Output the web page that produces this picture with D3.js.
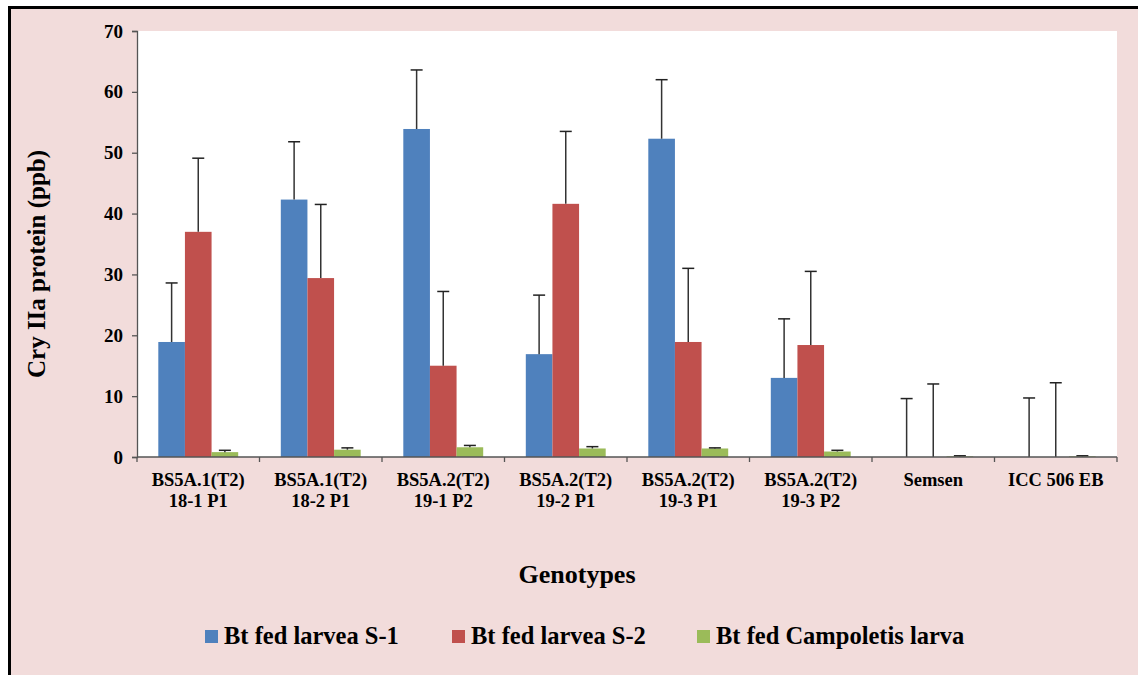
<!DOCTYPE html>
<html>
<head>
  <script src="https://d3js.org/d3.v7.min.js"></script>
  <style>
    body { margin: 0; background: #fff; }
    svg text { font-family: 'Liberation Serif', 'DejaVu Serif', serif; font-weight: bold; fill: #000; }
  </style>
</head>
<body>
  <div id="chart"></div>
  <script>
    // Data
    const categories = [
      ["BS5A.1(T2)", "18-1 P1"],
      ["BS5A.1(T2)", "18-2 P1"],
      ["BS5A.2(T2)", "19-1 P2"],
      ["BS5A.2(T2)", "19-2 P1"],
      ["BS5A.2(T2)", "19-3 P1"],
      ["BS5A.2(T2)", "19-3 P2"],
      ["Semsen"],
      ["ICC 506 EB"]
    ];
    const seriesNames = ["Bt fed larvea S-1", "Bt fed larvea S-2", "Bt fed Campoletis larva"];
    const seriesColors = ["#4f81bd", "#c0504d", "#9bbb59"];

    const s1 = [18.9, 42.3, 53.9, 16.9, 52.3, 13.0, 0, 0];
    const s2 = [37.0, 29.4, 15.0, 41.6, 18.9, 18.4, 0, 0];
    const s3 = [0.8, 1.2, 1.6, 1.4, 1.4, 0.9, 0.1, 0.1];
    // top of the error bars
    const s1Err = [28.6, 51.8, 63.6, 26.6, 62.0, 22.7, 9.6, 9.7];
    const s2Err = [49.1, 41.5, 27.2, 53.5, 31.0, 30.5, 12.0, 12.2];
    const s3Err = [1.1, 1.5, 1.9, 1.7, 1.5, 1.1, 0.2, 0.2];

    const yTicks = [0, 10, 20, 30, 40, 50, 60, 70];

    const values = [s1, s2, s3];
    const errs = [s1Err, s2Err, s3Err];

    const FONT = "'Liberation Serif', 'DejaVu Serif', serif";

    const W = 1138, H = 675;
    const svg = d3.select("#chart").append("svg")
      .attr("width", W).attr("height", H);

    // pink chart area with black frame
    svg.append("rect").attr("x", 10).attr("y", 8).attr("width", W).attr("height", H)
      .attr("fill", "#f2dcdb");
    svg.append("path").attr("d", `M9.5,${H} V7.5 H${W}`)
      .attr("fill", "none").attr("stroke", "#000").attr("stroke-width", 3);

    const plot = { left: 137, right: 1117, top: 31, bottom: 457 };
    svg.append("rect")
      .attr("x", plot.left).attr("y", plot.top)
      .attr("width", plot.right - plot.left).attr("height", plot.bottom - plot.top)
      .attr("fill", "#fff");

    const x0 = d3.scaleBand().domain(d3.range(categories.length))
      .range([plot.left, plot.right]).padding(0);
    const x1 = d3.scaleBand().domain(d3.range(seriesNames.length))
      .range([0, x0.bandwidth()]).paddingInner(0).paddingOuter(0.8);
    const y = d3.scaleLinear().domain([0, 70]).range([plot.bottom, plot.top]);

    // bars
    const groups = svg.selectAll(".grp").data(categories).enter().append("g")
      .attr("transform", (d, i) => `translate(${x0(i)},0)`);

    seriesNames.forEach((name, si) => {
      groups.append("rect")
        .attr("x", (d, i) => x1(si))
        .attr("width", x1.bandwidth())
        .attr("y", (d, i) => y(values[si][i]))
        .attr("height", (d, i) => y(0) - y(values[si][i]))
        .attr("fill", seriesColors[si]);
    });

    // error bars (upper only)
    seriesNames.forEach((name, si) => {
      const cx = x1(si) + x1.bandwidth() / 2;
      groups.append("line")
        .attr("x1", cx).attr("x2", cx)
        .attr("y1", (d, i) => y(values[si][i]))
        .attr("y2", (d, i) => y(errs[si][i]))
        .attr("stroke", "#333").attr("stroke-width", 1.5);
      groups.append("line")
        .attr("x1", cx - 6).attr("x2", cx + 6)
        .attr("y1", (d, i) => y(errs[si][i]))
        .attr("y2", (d, i) => y(errs[si][i]))
        .attr("stroke", "#222").attr("stroke-width", 1.5);
    });

    // y axis
    const yAxis = svg.append("g")
      .attr("transform", `translate(${plot.left},0)`)
      .call(d3.axisLeft(y).tickValues(yTicks).tickSize(5).tickPadding(9));
    yAxis.attr("font-family", FONT).attr("font-size", 19);
    yAxis.selectAll("path, line").attr("stroke", "#555").attr("stroke-width", 1.3);
    yAxis.selectAll("text").attr("font-family", FONT).attr("font-weight", "bold")
      .attr("font-size", 19);

    // x axis: line plus ticks at category boundaries
    const xAxis = svg.append("g");
    xAxis.append("line")
      .attr("x1", plot.left).attr("x2", plot.right)
      .attr("y1", plot.bottom).attr("y2", plot.bottom)
      .attr("stroke", "#555").attr("stroke-width", 1.3);
    xAxis.selectAll(".tk").data(d3.range(categories.length + 1)).enter().append("line")
      .attr("x1", i => plot.left + i * x0.step())
      .attr("x2", i => plot.left + i * x0.step())
      .attr("y1", plot.bottom).attr("y2", plot.bottom + 5)
      .attr("stroke", "#555").attr("stroke-width", 1.3);

    const labels = xAxis.selectAll(".lbl").data(categories).enter().append("text")
      .attr("text-anchor", "middle")
      .attr("font-family", FONT).attr("font-weight", "bold")
      .attr("font-size", 18.5)
      .attr("transform", (d, i) => `translate(${x0(i) + x0.bandwidth() / 2},${plot.bottom + 29})`);
    labels.selectAll("tspan").data(d => d).enter().append("tspan")
      .attr("x", 0).attr("dy", (d, j) => j === 0 ? 0 : 21)
      .text(d => d);

    // axis titles
    svg.append("text")
      .attr("x", 577).attr("y", 583)
      .attr("text-anchor", "middle")
      .attr("font-family", FONT).attr("font-weight", "bold").attr("font-size", 26)
      .text("Genotypes");

    svg.append("text")
      .attr("transform", "translate(45,264) rotate(-90)")
      .attr("text-anchor", "middle")
      .attr("font-family", FONT).attr("font-weight", "bold").attr("font-size", 25)
      .text("Cry IIa protein (ppb)");

    // legend
    const legendX = [205, 452, 697];
    const legend = svg.append("g");
    seriesNames.forEach((name, si) => {
      legend.append("rect")
        .attr("x", legendX[si]).attr("y", 630)
        .attr("width", 13).attr("height", 13)
        .attr("fill", seriesColors[si]);
      legend.append("text")
        .attr("x", legendX[si] + 19).attr("y", 644)
        .attr("font-family", FONT).attr("font-weight", "bold").attr("font-size", 24.5)
        .text(name);
    });
  </script>
</body>
</html>
